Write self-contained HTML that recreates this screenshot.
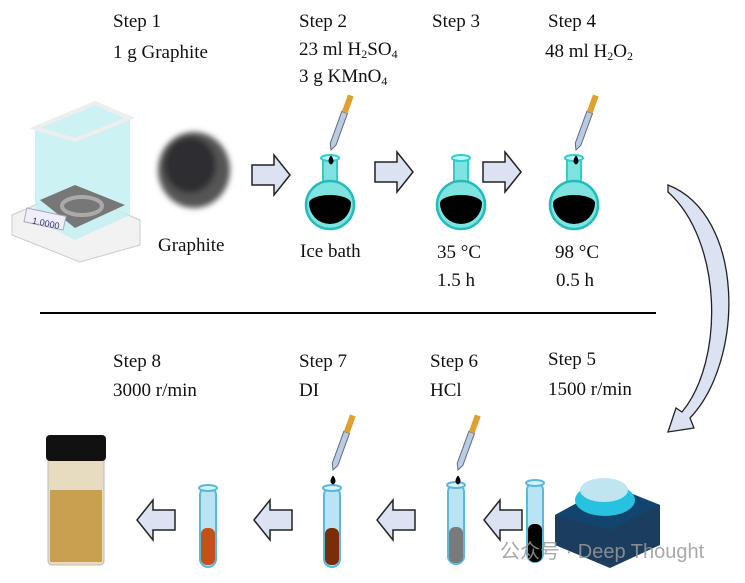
<!DOCTYPE html>
<html><head><meta charset="utf-8"><style>
body{margin:0;width:745px;height:583px;background:#fff;overflow:hidden;position:relative;font-family:"Liberation Serif",serif}
.t{position:absolute;font-size:19px;color:#111;white-space:nowrap;line-height:1}
sub{font-size:12px;vertical-align:-3px;line-height:0}
</style></head><body>
<div class="t" style="left:113px;top:12px">Step 1</div>
<div class="t" style="left:113px;top:43px">1 g Graphite</div>
<div class="t" style="left:299px;top:12px">Step 2</div>
<div class="t" style="left:299px;top:40px">23 ml H<sub>2</sub>SO<sub>4</sub></div>
<div class="t" style="left:299px;top:67px">3 g KMnO<sub>4</sub></div>
<div class="t" style="left:432px;top:12px">Step 3</div>
<div class="t" style="left:548px;top:12px">Step 4</div>
<div class="t" style="left:545px;top:42px">48 ml H<sub>2</sub>O<sub>2</sub></div>
<div class="t" style="left:158px;top:236px">Graphite</div>
<div class="t" style="left:300px;top:242px">Ice bath</div>
<div class="t" style="left:437px;top:243px">35 °C</div>
<div class="t" style="left:437px;top:271px">1.5 h</div>
<div class="t" style="left:555px;top:243px">98 °C</div>
<div class="t" style="left:556px;top:271px">0.5 h</div>
<div class="t" style="left:113px;top:352px">Step 8</div>
<div class="t" style="left:113px;top:381px">3000 r/min</div>
<div class="t" style="left:299px;top:352px">Step 7</div>
<div class="t" style="left:299px;top:381px">DI</div>
<div class="t" style="left:430px;top:352px">Step 6</div>
<div class="t" style="left:430px;top:381px">HCl</div>
<div class="t" style="left:548px;top:350px">Step 5</div>
<div class="t" style="left:548px;top:380px">1500 r/min</div>
<svg width="745" height="583" style="position:absolute;left:0;top:0">
<defs>
<filter id="bl"><feGaussianBlur stdDeviation="3"/></filter>
<g id="ar"><polygon points="0,10 22,10 22,0 38,20 22,40 22,30 0,30" fill="#dbe3f3" stroke="#222" stroke-width="1.5"/></g>
<g id="fl"><rect x="-7" y="-47" width="14" height="30" fill="#7fe3e0" stroke="#3cc" stroke-width="2"/><ellipse cx="0" cy="-47" rx="9" ry="3" fill="#bff" stroke="#3cc" stroke-width="2"/><circle cx="0" cy="0" r="24" fill="#7fe3e0" stroke="#2bb" stroke-width="2.5"/><path d="M-21,-2 A21 21 0 0 0 21,-2 Z" fill="#000"/><ellipse cx="0" cy="-2" rx="21" ry="8" fill="#000"/></g>
<g id="dr"><g transform="rotate(20)"><path d="M-3,-40 L3,-40 L3,-6 L0,0 L-3,-6Z" fill="#b8cde0" stroke="#668" stroke-width="1"/><rect x="-3" y="-58" width="6" height="18" fill="#e0a030"/></g><path d="M0,6 q-4,6 0,8 q4,-2 0,-8" fill="#000" stroke="#000"/></g>
<g id="tb"><rect x="-8" y="0" width="16" height="80" rx="8" fill="#b8e4f4" stroke="#5ab8dc" stroke-width="2"/><ellipse cx="0" cy="1" rx="9" ry="3" fill="#d8f2fa" stroke="#5ab8dc" stroke-width="2"/></g>
</defs>
<line x1="40" y1="313" x2="656" y2="313" stroke="#000" stroke-width="2"/>
<use href="#ar" x="252" y="155"/><use href="#ar" x="375" y="152"/><use href="#ar" x="483" y="152"/>
<g transform="translate(522,500) scale(-1,1)"><use href="#ar"/></g>
<g transform="translate(415,500) scale(-1,1)"><use href="#ar"/></g>
<g transform="translate(292,500) scale(-1,1)"><use href="#ar"/></g>
<g transform="translate(175,500) scale(-1,1)"><use href="#ar"/></g>
<path d="M668,185 C745,215 745,360 690,418 L694,428 L668,432 L676,408 L682,412 C725,360 722,240 668,192 Z" fill="#dbe3f3" stroke="#222" stroke-width="1.3"/>
<polygon points="12,215 70,190 140,220 140,245 80,262 12,235" fill="#f2f2f2" stroke="#ccc"/>
<polygon points="35,130 95,105 130,120 130,215 75,240 35,220" fill="#bfeff0" opacity=".8"/>
<polygon points="40,200 75,185 125,205 75,228" fill="#777"/>
<ellipse cx="82" cy="206" rx="20" ry="9" fill="none" stroke="#aaa" stroke-width="4"/>
<polygon points="35,128 95,103 130,118 75,140" fill="none" stroke="#eee" stroke-width="4"/>
<rect x="25" y="212" width="40" height="14" fill="#eef" stroke="#aab" transform="rotate(12 45 219)"/>
<text x="33" y="226" font-size="9" fill="#336" font-family="Liberation Sans" transform="rotate(12 45 219)">1.0000</text>
<g filter="url(#bl)"><ellipse cx="194" cy="170" rx="36" ry="38" fill="#555"/><ellipse cx="190" cy="165" rx="26" ry="28" fill="#2f2f32"/></g>
<use href="#fl" x="330" y="205"/><use href="#fl" x="461" y="205"/><use href="#fl" x="574" y="205"/>
<use href="#dr" x="331" y="150"/><use href="#dr" x="576" y="150"/>
<use href="#tb" x="208" y="487"/><rect x="201" y="528" width="14" height="37" rx="6" fill="#c4501a"/>
<use href="#tb" x="332" y="487"/><rect x="325" y="528" width="14" height="37" rx="6" fill="#7a2e08"/>
<use href="#tb" x="456" y="484"/><rect x="449" y="527" width="14" height="36" rx="6" fill="#7a7a7a"/>
<use href="#tb" x="535" y="482"/><rect x="528" y="524" width="14" height="38" rx="6" fill="#000"/>
<use href="#dr" x="458" y="470"/><use href="#dr" x="333" y="470"/>
<rect x="48" y="455" width="56" height="110" rx="4" fill="#e8dcc0" stroke="#bbb"/>
<rect x="50" y="490" width="52" height="72" fill="#c9a050"/>
<rect x="46" y="435" width="60" height="26" rx="4" fill="#111"/>
<path d="M555,515 L610,485 L660,505 L660,545 L610,568 L555,545Z" fill="#1b3d5e"/>
<path d="M555,515 L610,485 L660,505 L610,530Z" fill="#12456e"/>
<ellipse cx="605" cy="500" rx="30" ry="16" fill="#27c2e0"/>
<ellipse cx="604" cy="490" rx="24" ry="12" fill="#bfe6f0"/>
<text x="500" y="558" font-size="20" fill="#9a9a9a" fill-opacity="0.85" font-family="Liberation Sans, Noto Sans CJK SC, sans-serif">公众号 · Deep Thought</text>
</svg>
</body></html>
